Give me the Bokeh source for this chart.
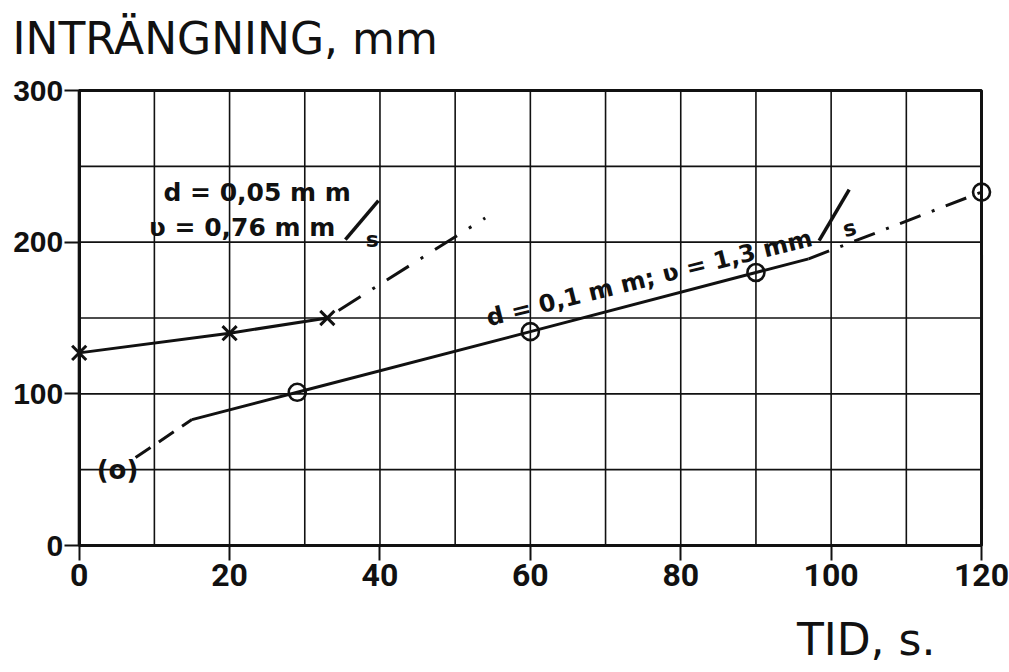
from bokeh.plotting import figure
from bokeh.models import Range1d, FixedTicker, Title
from bokeh.core.properties import value
from bokeh.embed import file_html
from bokeh.resources import INLINE

# ---- data ----
# series d = 0,05 mm (crosses)
cross_t = [0, 20, 33]
cross_v = [127, 140, 150]
cross_ext_t = [34.5, 54]          # dash-dot extrapolation
cross_ext_v = [155, 216]

# series d = 0,1 mm (circles)
circ_t = [29, 60, 90, 120]
circ_v = [101, 141, 180, 233]
circ_solid_t = [15, 29, 60, 90, 97]
circ_solid_v = [83, 101, 141, 180, 189]
circ_dash_t = [7.5, 15]
circ_dash_v = [58, 83]
circ_dashdot_t = [97, 120]
circ_dashdot_v = [189, 233]
paren_t = [5.1]
paren_v = [50]

x_ticks = [0, 20, 40, 60, 80, 100, 120]
y_ticks = [0, 100, 200, 300]
x_grid = list(range(0, 121, 10))
y_grid = list(range(0, 301, 50))

INK = "#111111"
x0, x1 = min(x_ticks), max(x_ticks)
y0, y1 = min(y_ticks), max(y_ticks)

# the plotting frame is padded round the chart box so that edge markers and
# tick labels are not clipped; the axes are pinned to the box edges
p = figure(width=1009, height=672,
           x_range=Range1d(x0 - 9.4, x1 + 3.72), y_range=Range1d(y0 - 39.56, y1 + 11.87),
           output_backend="svg", toolbar_location=None,
           min_border_left=8, min_border_right=0, min_border_top=72, min_border_bottom=67)
p.background_fill_color = "white"
p.border_fill_color = "white"
p.outline_line_color = None
p.xgrid.grid_line_color = None
p.ygrid.grid_line_color = None

# grid lines inside the chart box
p.segment(x0=x_grid, y0=[y0] * len(x_grid), x1=x_grid, y1=[y1] * len(x_grid),
          line_color=INK, line_width=1.6)
p.segment(x0=[x0] * len(y_grid), y0=y_grid, x1=[x1] * len(y_grid), y1=y_grid,
          line_color=INK, line_width=1.6)
# chart box
p.quad(left=[x0], right=[x1], bottom=[y0], top=[y1], fill_alpha=0, line_color=INK, line_width=3)

# axes
p.xaxis.ticker = FixedTicker(ticks=x_ticks)
p.yaxis.ticker = FixedTicker(ticks=y_ticks)
p.xaxis.bounds = (x0, x1)
p.yaxis.bounds = (y0, y1)
p.yaxis.fixed_location = x0
p.xaxis.fixed_location = y0
for ax in (p.xaxis, p.yaxis):
    ax.axis_line_color = INK
    ax.axis_line_width = 3
    ax.major_tick_line_color = INK
    ax.major_tick_line_width = 2
    ax.major_tick_in = 0
    ax.minor_tick_line_color = None
    ax.major_label_text_color = INK
    ax.major_label_text_font_style = "bold"
p.xaxis.major_tick_out = 15
p.xaxis.major_label_standoff = 3
p.xaxis.major_label_text_font = "Roboto"
p.xaxis.major_label_text_font_size = "32px"
p.yaxis.major_tick_out = 15
p.yaxis.major_label_standoff = 1
p.yaxis.major_label_text_font = "Liberation Sans"
p.yaxis.major_label_text_font_size = "30px"

# lines
p.line(cross_t, cross_v, line_color=INK, line_width=3)
p.line(cross_ext_t, cross_ext_v, line_color=INK, line_width=3, line_dash="26 14 3 14")
p.line(circ_solid_t, circ_solid_v, line_color=INK, line_width=3)
p.line(circ_dash_t, circ_dash_v, line_color=INK, line_width=3, line_dash="18 10")
p.line(circ_dashdot_t, circ_dashdot_v, line_color=INK, line_width=3, line_dash="22 12 3 12")

# markers
p.scatter(cross_t, cross_v, marker="x", size=20, line_color=INK, line_width=3)
p.scatter(circ_t, circ_v, marker="circle", size=17, line_color=INK, line_width=2.6,
          fill_alpha=0)
p.text(paren_t, paren_v, text=["(o)"], text_font=value("DejaVu Sans"), text_font_style="bold",
       text_font_size="26px", text_align="center", text_baseline="middle", text_color=INK)

# annotations
ann_font = value("DejaVu Sans")
p.text([11.2], [232.7], text=["d = 0,05 m m"], text_font=ann_font, text_font_style="bold",
       text_font_size="25px", text_baseline="alphabetic", text_color=INK)
p.text([9.3], [209.5], text=["ʋ = 0,76  m m"], text_font=ann_font, text_font_style="bold",
       text_font_size="25px", text_baseline="alphabetic", text_color=INK)
p.segment([35.4], [201.7], [39.8], [227.4], line_color=INK, line_width=3.5)
p.text([38.1], [201.5], text=["s"], text_font=ann_font, text_font_style="bold",
       text_font_size="22px", text_baseline="alphabetic", text_color=INK)

p.text([54.2], [149.6], text=["d = 0,1 m m; ʋ = 1,3  mm"], text_font=ann_font,
       text_font_style="bold", text_font_size="24px", text_baseline="alphabetic",
       angle=14, angle_units="deg", text_color=INK)
p.segment([98.4], [201], [102.4], [234.6], line_color=INK, line_width=3.5)
p.text([101.6], [208], text=["s"], text_font=ann_font, text_font_style="bold",
       text_font_size="22px", text_baseline="alphabetic", angle=14, angle_units="deg",
       text_color=INK)

# axis titles
p.title.text = "INTRÄNGNING, mm"
p.title.align = "left"
p.title.offset = 4
p.title.standoff = 18
p.title.text_font = "DejaVu Sans"
p.title.text_font_style = "normal"
p.title.text_font_size = "44px"
p.title.text_color = INK

p.add_layout(Title(text="TID, s.", align="right", offset=74, standoff=13,
                   text_font="DejaVu Sans", text_font_style="normal",
                   text_font_size="44px", text_color=INK), "below")

open("out.html", "w").write(file_html(p, INLINE))
